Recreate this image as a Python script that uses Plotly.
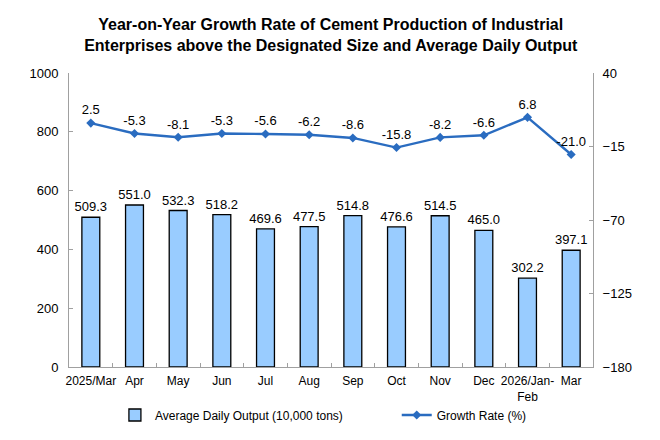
import plotly.graph_objects as go

categories = ["2025/Mar", "Apr", "May", "Jun", "Jul", "Aug", "Sep", "Oct", "Nov", "Dec", "2026/Jan-<br>Feb", "Mar"]
daily_output = [509.3, 551.0, 532.3, 518.2, 469.6, 477.5, 514.8, 476.6, 514.5, 465.0, 302.2, 397.1]
growth_rate = [2.5, -5.3, -8.1, -5.3, -5.6, -6.2, -8.6, -15.8, -8.2, -6.6, 6.8, -21.0]

font_family = "Liberation Sans, Arial, sans-serif"

fig = go.Figure()
fig.add_trace(go.Bar(
    x=categories, y=daily_output, name="Average Daily Output (10,000 tons)",
    marker=dict(color="#99CCFF", line=dict(color="#000000", width=1.3)),
    text=[f"{v:.1f}" for v in daily_output], textposition="outside",
    constraintext="none", legend="legend",
    textfont=dict(size=13, color="#000000"), cliponaxis=False,
))
fig.add_trace(go.Scatter(
    x=categories, y=growth_rate, name="Growth Rate (%)", yaxis="y2",
    mode="lines+markers+text", legend="legend2",
    line=dict(color="#2A6CC0", width=2.4),
    marker=dict(symbol="diamond", size=7, color="#2A6CC0"),
    text=[f"{v:.1f}" for v in growth_rate], textposition="top center",
    textfont=dict(size=13, color="#000000"), cliponaxis=False,
))

fig.update_layout(
    width=660, height=440,
    margin=dict(l=61, r=75, t=65, b=81, autoexpand=False),
    paper_bgcolor="white", plot_bgcolor="white",
    font=dict(family=font_family, size=13, color="#000000"),
    title=dict(
        text="<b>Year-on-Year Growth Rate of Cement Production of Industrial<br>Enterprises above the Designated Size and Average Daily Output</b>",
        x=0.489, xanchor="center", y=0.95, yanchor="top",
        font=dict(size=16, family=font_family, color="#000000"),
    ),
    bargap=0.59,
    showlegend=True,
    legend=dict(xref="container", yref="container", x=0.162, xanchor="left",
                y=0.075, yanchor="middle", font=dict(size=12), itemwidth=30),
    legend2=dict(xref="container", yref="container", x=0.589, xanchor="left",
                 y=0.075, yanchor="middle", font=dict(size=12), itemwidth=30),
    xaxis=dict(
        range=[-0.5, 11.5],
        showline=True, linecolor="#A0A0A0", linewidth=1, automargin=False,
        ticks="inside", ticklen=4, tickcolor="#A0A0A0", tickson="boundaries",
        tickfont=dict(size=12), showgrid=False, tickangle=0, ticklabelstandoff=3,
    ),
    yaxis=dict(
        range=[0, 1000], dtick=200, showline=True, linecolor="#A0A0A0", automargin=False,
        ticks="inside", ticklen=4, tickcolor="#A0A0A0", showgrid=False,
        zeroline=False, tickfont=dict(size=13), ticklabelstandoff=7,
    ),
    yaxis2=dict(
        range=[-180, 40], tickvals=[40, -15, -70, -125, -180], overlaying="y", side="right",
        showline=True, linecolor="#A0A0A0", ticks="inside", ticklen=4, automargin=False,
        tickcolor="#A0A0A0", showgrid=False, zeroline=False, tickfont=dict(size=13),
        ticklabelstandoff=6,
    ),
)

fig.write_html("out.html")
